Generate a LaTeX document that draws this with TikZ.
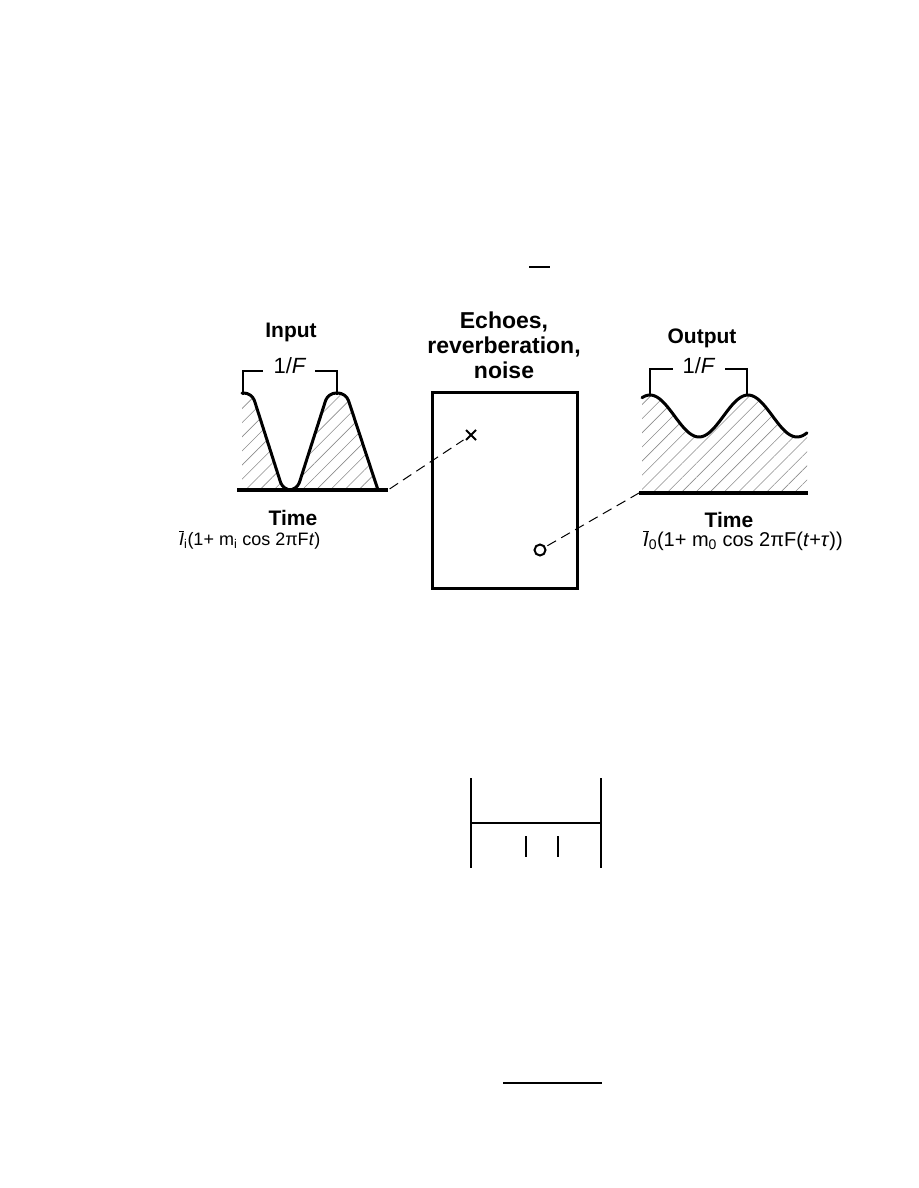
\documentclass[tikz,border=0pt]{standalone}
\usepackage{fontspec}
\setmainfont{Liberation Sans}
\usetikzlibrary{patterns.meta, shapes.misc}

\begin{document}
\begin{tikzpicture}[x=1pt, y=-1pt,
  heading/.style={font=\bfseries\fontsize{21}{25}\selectfont, align=center, inner sep=0pt},
  formula/.style={font=\fontsize{18}{22}\selectfont, inner sep=0pt},
  period/.style={font=\fontsize{22}{24}\selectfont, inner sep=0pt},
  floor/.style={line width=3.2pt},
  wave/.style={line width=3pt, line join=round, line cap=round},
  hatch/.style={pattern={Lines[angle=45, distance=10pt, line width=0.6pt]}, pattern color=black!45},
  bracket/.style={line width=1.6pt},
  link/.style={line width=1pt, dash pattern=on 10pt off 6pt},
  plain/.style={line width=1.8pt}]

\useasboundingbox (0,0) rectangle (918,1188);

% small mark above
\draw[bracket] (529,267) -- (550,267);

% input
\node[heading, anchor=base] (inTitle) at (291,337) {Input};
\node[period] (inPeriod) at (290,366) {1/\textit{F}};
\draw[bracket] (243,395) -- (243,371) -- (263,371);
\draw[bracket] (315,371) -- (337,371) -- (337,395);
\coordinate (inStart) at (237,490);
\coordinate (inEnd) at (388,490);
\path[hatch] [rounded corners=8pt] (242,393) -- (252,393) -- (283,490) -- (297,490) -- (328,393) -- (346,393) -- (378,490) [sharp corners] -- (242,490) -- cycle;
\draw[wave, rounded corners=8pt] (242,393) -- (252,393) -- (283,490) -- (297,490) -- (328,393) -- (346,393) -- (378,490);
\draw[floor] (inStart) -- (inEnd);
\node[heading, anchor=base] (inTime) at (293,525) {Time};
\node[formula, anchor=base west] (inFormula) at (179,545)
  {$\overline{\mbox{\textit{I}}}$\textsubscript{i}(1+ m\textsubscript{i} cos 2πF\textit{t})};

% room
\node[heading, font=\bfseries\fontsize{23}{25}\selectfont] (roomTitle) at (504,345) {Echoes,\\reverberation,\\noise};
\node[draw, line width=3pt, minimum width=145pt, minimum height=196pt, inner sep=0pt] (room) at (504.5,490) {};
\node[cross out, draw, line width=2pt, minimum size=8pt, inner sep=0pt] (cross) at (471,435) {};
\node[circle, draw, line width=2pt, minimum size=11pt, inner sep=0pt] (ring) at (540,550) {};

% output
\node[heading, anchor=base] (outTitle) at (702,343) {Output};
\node[period] (outPeriod) at (699,366) {1/\textit{F}};
\draw[bracket] (650,395) -- (650,369) -- (673,369);
\draw[bracket] (725,369) -- (747,369) -- (747,395);
\coordinate (outStart) at (639,493);
\coordinate (outEnd) at (808,493);
\path[hatch] plot[domain=642:807, samples=80] (\x, {416-21*cos((\x-650)/98*360)}) -- (807,493) -- (642,493) -- cycle;
\draw[wave] plot[domain=642:807, samples=80] (\x, {416-21*cos((\x-650)/98*360)});
\draw[floor] (outStart) -- (outEnd);
\node[heading, anchor=base] (outTime) at (729,527) {Time};
\node[formula, font=\fontsize{20}{24}\selectfont, anchor=base east] (outFormula) at (843,546)
  {$\overline{\mbox{\textit{I}}}$\textsubscript{0}(1+ m\textsubscript{0} cos 2πF(\textit{t}+\textit{τ}))};

% dashed links
\draw[link, shorten <=2pt, shorten >=3pt] (inEnd) -- (cross);
\draw[link, shorten <=2pt] (ring) -- (outStart);

% lower figure
\draw[plain] (471,778) -- (471,868);
\draw[plain] (601,778) -- (601,868);
\draw[plain] (471,823) -- (600,823);
\draw[plain] (526,836) -- (526,857);
\draw[plain] (558,836) -- (558,857);
\draw[plain] (503,1083) -- (602,1083);
\end{tikzpicture}
\end{document}
